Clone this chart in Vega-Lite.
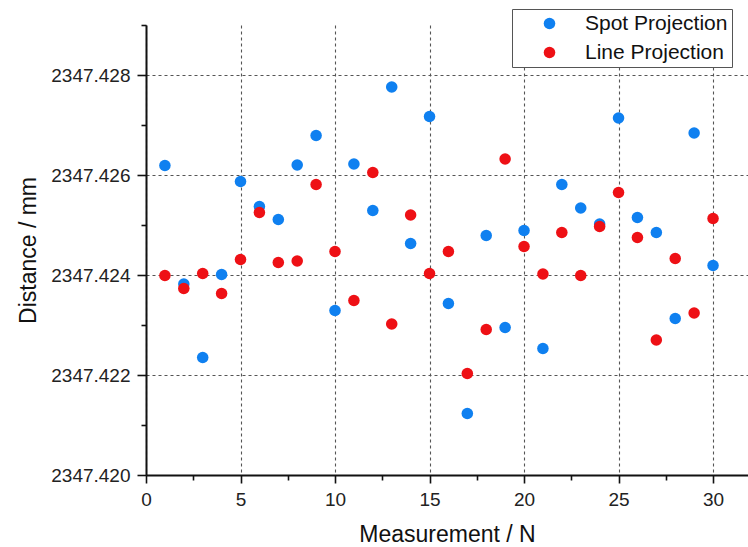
{
  "$schema": "https://vega.github.io/schema/vega-lite/v6.json",
  "width": 602,
  "height": 450,
  "autosize": {"type": "none"},
  "padding": {"left": 146, "top": 25, "right": 0, "bottom": 72},
  "background": "white",
  "config": {
    "view": {"stroke": null},
    "font": "Liberation Sans",
    "axis": {
      "domainColor": "#111",
      "domainWidth": 2,
      "tickColor": "#111",
      "tickWidth": 1.6,
      "labelFont": "Liberation Sans",
      "labelFontSize": 19,
      "labelColor": "#222",
      "titleFont": "Liberation Sans",
      "titleFontSize": 23,
      "titleFontWeight": "normal",
      "titleColor": "#111",
      "gridColor": "#555",
      "gridDash": [3, 3],
      "gridWidth": 1.1,
      "labelOverlap": false,
      "labelFlush": false
    }
  },
  "data": {
    "values": [
      {"N": 1, "series": "Spot Projection", "d": 2347.42619},
      {"N": 2, "series": "Spot Projection", "d": 2347.42382},
      {"N": 3, "series": "Spot Projection", "d": 2347.42235},
      {"N": 4, "series": "Spot Projection", "d": 2347.42401},
      {"N": 5, "series": "Spot Projection", "d": 2347.42587},
      {"N": 6, "series": "Spot Projection", "d": 2347.42537},
      {"N": 7, "series": "Spot Projection", "d": 2347.42511},
      {"N": 8, "series": "Spot Projection", "d": 2347.4262},
      {"N": 9, "series": "Spot Projection", "d": 2347.42679},
      {"N": 10, "series": "Spot Projection", "d": 2347.42329},
      {"N": 11, "series": "Spot Projection", "d": 2347.42622},
      {"N": 12, "series": "Spot Projection", "d": 2347.42529},
      {"N": 13, "series": "Spot Projection", "d": 2347.42776},
      {"N": 14, "series": "Spot Projection", "d": 2347.42463},
      {"N": 15, "series": "Spot Projection", "d": 2347.42717},
      {"N": 16, "series": "Spot Projection", "d": 2347.42343},
      {"N": 17, "series": "Spot Projection", "d": 2347.42123},
      {"N": 18, "series": "Spot Projection", "d": 2347.42479},
      {"N": 19, "series": "Spot Projection", "d": 2347.42295},
      {"N": 20, "series": "Spot Projection", "d": 2347.42489},
      {"N": 21, "series": "Spot Projection", "d": 2347.42253},
      {"N": 22, "series": "Spot Projection", "d": 2347.42581},
      {"N": 23, "series": "Spot Projection", "d": 2347.42534},
      {"N": 24, "series": "Spot Projection", "d": 2347.42502},
      {"N": 25, "series": "Spot Projection", "d": 2347.42714},
      {"N": 26, "series": "Spot Projection", "d": 2347.42515},
      {"N": 27, "series": "Spot Projection", "d": 2347.42485},
      {"N": 28, "series": "Spot Projection", "d": 2347.42313},
      {"N": 29, "series": "Spot Projection", "d": 2347.42684},
      {"N": 30, "series": "Spot Projection", "d": 2347.42419},
      {"N": 1, "series": "Line Projection", "d": 2347.42399},
      {"N": 2, "series": "Line Projection", "d": 2347.42373},
      {"N": 3, "series": "Line Projection", "d": 2347.42403},
      {"N": 4, "series": "Line Projection", "d": 2347.42363},
      {"N": 5, "series": "Line Projection", "d": 2347.42431},
      {"N": 6, "series": "Line Projection", "d": 2347.42525},
      {"N": 7, "series": "Line Projection", "d": 2347.42425},
      {"N": 8, "series": "Line Projection", "d": 2347.42428},
      {"N": 9, "series": "Line Projection", "d": 2347.42581},
      {"N": 10, "series": "Line Projection", "d": 2347.42447},
      {"N": 11, "series": "Line Projection", "d": 2347.42349},
      {"N": 12, "series": "Line Projection", "d": 2347.42605},
      {"N": 13, "series": "Line Projection", "d": 2347.42302},
      {"N": 14, "series": "Line Projection", "d": 2347.4252},
      {"N": 15, "series": "Line Projection", "d": 2347.42403},
      {"N": 16, "series": "Line Projection", "d": 2347.42447},
      {"N": 17, "series": "Line Projection", "d": 2347.42203},
      {"N": 18, "series": "Line Projection", "d": 2347.42291},
      {"N": 19, "series": "Line Projection", "d": 2347.42632},
      {"N": 20, "series": "Line Projection", "d": 2347.42457},
      {"N": 21, "series": "Line Projection", "d": 2347.42402},
      {"N": 22, "series": "Line Projection", "d": 2347.42485},
      {"N": 23, "series": "Line Projection", "d": 2347.42399},
      {"N": 24, "series": "Line Projection", "d": 2347.42497},
      {"N": 25, "series": "Line Projection", "d": 2347.42565},
      {"N": 26, "series": "Line Projection", "d": 2347.42475},
      {"N": 27, "series": "Line Projection", "d": 2347.4227},
      {"N": 28, "series": "Line Projection", "d": 2347.42433},
      {"N": 29, "series": "Line Projection", "d": 2347.42324},
      {"N": 30, "series": "Line Projection", "d": 2347.42513}
    ]
  },
  "mark": {"type": "point", "filled": true, "size": 133, "opacity": 1, "shape": "circle"},
  "encoding": {
    "x": {
      "field": "N",
      "type": "quantitative",
      "title": "Measurement / N",
      "scale": {"domain": [0, 31.85], "nice": false, "zero": false},
      "axis": {
        "values": [0, 2.5, 5, 7.5, 10, 12.5, 15, 17.5, 20, 22.5, 25, 27.5, 30],
        "labelExpr": "datum.value % 5 == 0 ? format(datum.value, 'd') : ''",
        "tickSize": {"condition": {"test": "datum.value % 5 == 0", "value": 8}, "value": 5},
        "gridOpacity": {"condition": {"test": "datum.value % 5 == 0", "value": 1}, "value": 0},
        "labelPadding": 7,
        "titlePadding": 14
      }
    },
    "y": {
      "field": "d",
      "type": "quantitative",
      "title": "Distance / mm",
      "scale": {"domain": [2347.42, 2347.429], "nice": false, "zero": false},
      "axis": {
        "values": [2347.42, 2347.421, 2347.422, 2347.423, 2347.424, 2347.425, 2347.426, 2347.427, 2347.428, 2347.429],
        "labelExpr": "round(datum.value * 1000) % 2 == 0 ? format(datum.value, '.3f') : ''",
        "tickSize": {"condition": {"test": "round(datum.value * 1000) % 2 == 0", "value": 9}, "value": 5},
        "gridOpacity": {"condition": {"test": "round(datum.value * 1000) % 2 == 0", "value": 1}, "value": 0},
        "labelPadding": 7,
        "titlePadding": 10
      }
    },
    "color": {
      "field": "series",
      "type": "nominal",
      "sort": null,
      "scale": {"domain": ["Spot Projection", "Line Projection"], "range": ["#0f80f0", "#ee1015"]},
      "legend": {
        "title": null,
        "orient": "none",
        "legendX": 366,
        "legendY": -16,
        "padding": 4,
        "symbolOffset": 23,
        "labelOffset": 25,
        "rowPadding": 7,
        "labelFont": "Liberation Sans",
        "labelFontSize": 21,
        "labelColor": "#111",
        "symbolType": "circle",
        "symbolSize": 133,
        "symbolStrokeWidth": 0,
        "strokeColor": "#555",
        "fillColor": "white"
      }
    }
  }
}
